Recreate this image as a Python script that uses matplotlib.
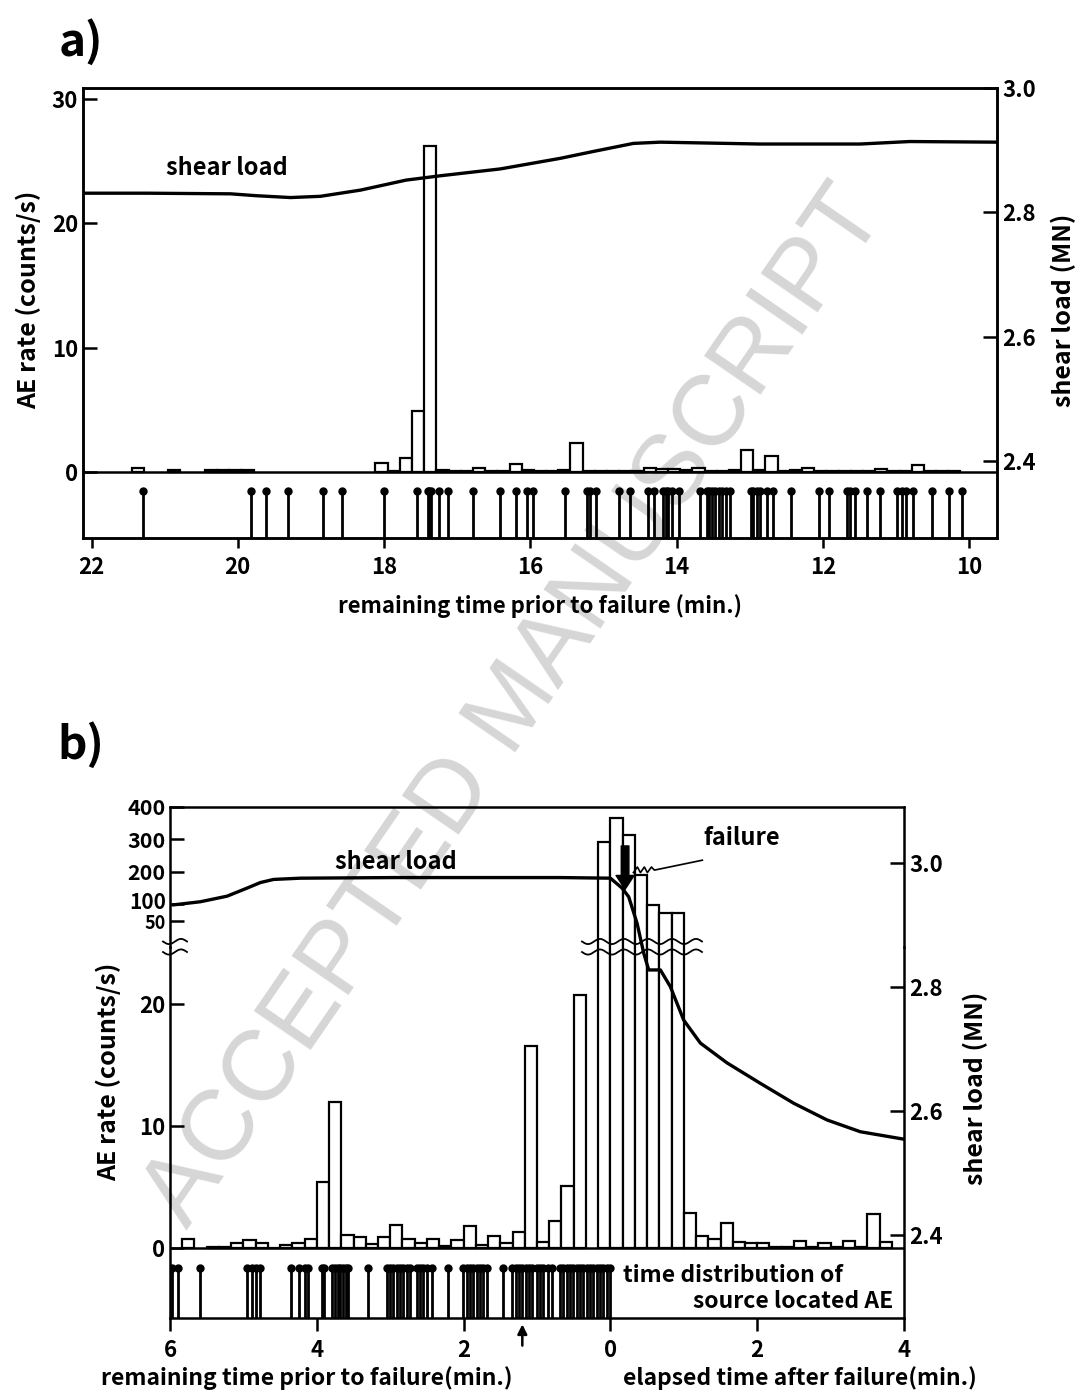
import numpy as np
import matplotlib
matplotlib.use("Agg")
import matplotlib.pyplot as plt
from matplotlib.lines import Line2D
from matplotlib.ticker import FuncFormatter

plt.rcParams["font.family"] = ["Noto Sans CJK JP", "DejaVu Sans"]

# ---------------- panel a: 10 s AE rate, 22 -> 10 min before failure
a_bin_start = 22.117
a_bin_width = 1 / 6
a_rate = [0, 0, 0, 0, 0.35, 0, 0, 0.2, 0, 0, 0.2, 0.2, 0.2, 0.15,
          0, 0, 0, 0, 0, 0, 0, 0, 0, 0,
          0.7, 0.1, 1.15, 4.9, 26.2, 0.15, 0.1, 0.05, 0.3, 0.1, 0.05, 0.65,
          0.2, 0.05, 0.1, 0.15, 2.35, 0.1, 0.05, 0.05, 0.05, 0.1, 0.35, 0.25,
          0.25, 0.15, 0.3, 0.1, 0.05, 0.2, 1.8, 0.15, 1.3, 0.05, 0.15, 0.35,
          0.1, 0.05, 0.05, 0.05, 0.1, 0.25, 0.05, 0.1, 0.6, 0.1, 0.1, 0.1,
          0, 0, 0]
a_events = [21.29, 19.82, 19.61, 19.31, 18.83, 18.57, 18.00, 17.55, 17.40,
            17.38, 17.36, 17.25, 17.13, 16.79, 16.41, 16.19, 16.04, 15.96,
            15.52, 15.22, 15.19, 15.10, 14.79, 14.64, 14.39, 14.31, 14.18,
            14.14, 14.11, 14.06, 13.97, 13.68, 13.58, 13.55, 13.51, 13.47,
            13.42, 13.38, 13.33, 13.27, 12.98, 12.95, 12.90, 12.86, 12.76,
            12.68, 12.44, 12.05, 11.92, 11.67, 11.63, 11.56, 11.39, 11.22,
            10.99, 10.92, 10.86, 10.77, 10.50, 10.28, 10.10]
a_load_t = [22.10, 21.23, 20.10, 19.75, 19.28, 18.87, 18.32, 17.70, 17.23,
            16.41, 15.59, 15.14, 14.59, 14.22, 12.86, 11.49, 10.81, 9.62]
a_load = [2.831, 2.831, 2.830, 2.827, 2.824, 2.826, 2.836, 2.852, 2.859,
          2.870, 2.887, 2.898, 2.911, 2.913, 2.910, 2.910, 2.914, 2.913]

# ---------------- panel b: 6 min before to 4 min after failure
b_bin_start = -6.0
b_bin_width = 1 / 6
b_rate = [0, 0.8, 0, 0.1, 0.1, 0.45, 0.7, 0.45, 0.05, 0.25, 0.4, 0.75,
          5.4, 12.0, 1.1, 0.9, 0.35, 0.9, 1.9, 0.75, 0.4, 0.75, 0.15, 0.7,
          1.8, 0.3, 1.0, 0.45, 1.35, 16.6, 0.55, 2.2, 5.1, 20.8, 0, 293,
          364, 313, 190, 97, 74, 72, 2.9, 1.0, 0.8, 2.1, 0.5, 0.4,
          0.4, 0.1, 0.1, 0.6, 0.1, 0.4, 0.1, 0.6, 0.1, 2.8, 0.5, 0]
b_events = [-5.967, -5.886, -5.590, -4.955, -4.887, -4.832, -4.772, -4.350,
            -4.237, -4.159, -4.124, -3.933, -3.896, -3.787, -3.751, -3.715,
            -3.678, -3.642, -3.606, -3.569, -3.307, -3.048, -3.001, -2.956,
            -2.911, -2.865, -2.820, -2.775, -2.729, -2.639, -2.593, -2.548,
            -2.503, -2.435, -2.217, -2.003, -1.958, -1.911, -1.866, -1.822,
            -1.775, -1.730, -1.685, -1.458, -1.335, -1.290, -1.244, -1.199,
            -1.154, -1.108, -1.063, -1.004, -0.958, -0.913, -0.854, -0.800,
            -0.685, -0.640, -0.595, -0.549, -0.504, -0.459, -0.413, -0.368,
            -0.323, -0.277, -0.232, -0.187, -0.140, -0.095, -0.050, -0.004]
b_load_t = [-5.95, -5.586, -5.222, -4.95, -4.768, -4.587, -4.223, -2.952,
            -1.59, -0.681, 0.0, 0.159, 0.249, 0.364, 0.454, 0.522, 0.681,
            0.817, 0.999, 1.226, 1.59, 2.044, 2.497, 2.952, 3.406, 4.0]
b_load = [2.932, 2.937, 2.946, 2.959, 2.968, 2.973, 2.975, 2.976, 2.976,
          2.976, 2.975, 2.959, 2.945, 2.902, 2.854, 2.827, 2.827, 2.800,
          2.746, 2.709, 2.677, 2.644, 2.612, 2.585, 2.566, 2.554]
b_upper_ticks = [50, 100, 200, 300, 400]

W, H = 1077, 1393
LW = 1.8
TICK_FS = 16
XLABEL_FS = 16
YLABEL_FS = 18
NOTE_FS = 17
BOLD = "bold"


def rect(x0, y0, x1, y1):
    return [x0 / W, 1 - y1 / H, (x1 - x0) / W, (y1 - y0) / H]


def fig_xy(x, y):
    return np.asarray(x) / W, 1 - np.asarray(y) / H


def style_ticks(ax, size=TICK_FS):
    for lab in ax.get_xticklabels() + ax.get_yticklabels():
        lab.set_fontweight(BOLD)
        lab.set_fontsize(size)


fig = plt.figure(figsize=(W / 100, H / 100), dpi=100)

# watermark behind everything
fig.text(0.478, 0.492, "ACCEPTED MANUSCRIPT", rotation=55.5, fontsize=72,
         color="#d6d6d6", ha="center", va="center", family="Liberation Sans",
         zorder=-1)

# ================= panel a =================
axa = fig.add_axes(rect(83, 88, 997, 538))
axa.set_facecolor("none")
axa.set_xlim(22.117, 9.617)
axa.set_ylim(-5.3, 30.9)
rate = np.array(a_rate)
centers = a_bin_start - (np.arange(len(rate)) + 0.5) * a_bin_width
m = rate > 0
axa.bar(centers[m], rate[m], width=a_bin_width, color="white",
        edgecolor="black", linewidth=1.6, zorder=2)
axa.axhline(0, color="black", lw=LW, zorder=3)
axa.vlines(a_events, -5.3, -1.5, color="black", lw=2.0, zorder=2)
axa.plot(a_events, [-1.5] * len(a_events), "o", ms=5, color="black", zorder=2)
axa.set_yticks([0, 10, 20, 30])
axa.set_xticks([22, 20, 18, 16, 14, 12, 10])
axa.tick_params(axis="y", direction="in", length=10, width=LW)
axa.tick_params(axis="x", direction="out", length=7, width=LW, pad=6)
for sp in axa.spines.values():
    sp.set_linewidth(LW)
style_ticks(axa)

axa2 = axa.twinx()
axa2.set_ylim(2.2771, 3.0)
axa2.set_yticks([2.4, 2.6, 2.8, 3.0])
axa2.yaxis.set_major_formatter(FuncFormatter(lambda v, p: f"{v:.1f}"))
axa2.tick_params(axis="y", direction="in", length=10, width=LW)
axa2.plot(a_load_t, a_load, color="black", lw=2.4, zorder=4)
axa2.text(20.15, 2.8715, "shear load", fontsize=NOTE_FS, fontweight=BOLD,
          ha="center", va="center")
for sp in axa2.spines.values():
    sp.set_linewidth(LW)
style_ticks(axa2)

fig.text(*fig_xy(28, 300), "AE rate (counts/s)", rotation=90, ha="center",
         va="center", fontsize=YLABEL_FS, fontweight=BOLD)
fig.text(*fig_xy(1063, 310), "shear load (MN)", rotation=90, ha="center",
         va="center", fontsize=YLABEL_FS, fontweight=BOLD)
fig.text(*fig_xy(540, 606), "remaining time prior to failure (min.)",
         ha="center", va="center", fontsize=XLABEL_FS, fontweight=BOLD)
fig.text(*fig_xy(81, 42), "a)", ha="center", va="center", fontsize=33,
         fontweight=BOLD)

# ================= panel b =================
Y_BREAK = 946.7
lo = fig.add_axes(rect(170, Y_BREAK, 904, 1318))
up = fig.add_axes(rect(170, 806.7, 904, Y_BREAK))
ld = fig.add_axes(rect(170, 806.7, 904, 1318))
for ax in (lo, up, ld):
    ax.set_facecolor("none")
    ax.set_xlim(-6, 4)
    for sp in ax.spines.values():
        sp.set_linewidth(LW)

lo.set_ylim(-5.71, 24.72)
up.set_ylim(-30.3, 400)
lo.spines["top"].set_visible(False)
up.spines["bottom"].set_visible(False)
for sp in ld.spines.values():
    sp.set_visible(False)

rate_b = np.array(b_rate)
cb = b_bin_start + (np.arange(len(rate_b)) + 0.5) * b_bin_width
m = rate_b > 0
lo.bar(cb[m], rate_b[m], width=b_bin_width, color="white", edgecolor="black",
       linewidth=1.6, zorder=2)
big = rate_b > 24.72
up.bar(cb[big], rate_b[big] + 60, bottom=-60, width=b_bin_width,
       color="white", edgecolor="black", linewidth=1.6, zorder=2)
lo.axhline(0, color="black", lw=LW, zorder=3)
lo.vlines(b_events, -5.71, -1.64, color="black", lw=2.0, zorder=2)
lo.plot(b_events, [-1.64] * len(b_events), "o", ms=5, color="black", zorder=2)

lo.set_yticks([0, 10, 20])
lo.set_xticks([-6, -4, -2, 0, 2, 4])
lo.xaxis.set_major_formatter(FuncFormatter(lambda v, p: f"{abs(v):.0f}"))
lo.tick_params(axis="y", direction="in", length=10, width=LW, right=False)
lo.tick_params(axis="x", direction="out", length=9, width=LW, pad=6)
style_ticks(lo)

# upper (compressed) scale: 100 and 50 sit very close, so they are placed
# by hand a little apart; the others are normal tick labels
up.set_yticks(b_upper_ticks)
up.set_yticklabels(["", ""] + [str(v) for v in b_upper_ticks[2:]])
up.tick_params(axis="y", direction="in", length=10, width=LW, right=False,
               pad=3)
up.tick_params(axis="x", bottom=False, labelbottom=False)
style_ticks(up, size=15.5)
up.text(-6.058, 106, "100", ha="right", va="center", fontsize=15,
        fontweight=BOLD, clip_on=False)
up.text(-6.058, 42, "50", ha="right", va="center", fontsize=13,
        fontweight=BOLD, clip_on=False)

ld.xaxis.set_visible(False)
ld.yaxis.tick_right()
ld.set_ylim(2.2656, 3.0903)
ld.set_yticks([2.4, 2.6, 2.8, 3.0])
ld.yaxis.set_major_formatter(FuncFormatter(lambda v, p: f"{v:.1f}"))
ld.tick_params(axis="y", direction="in", length=10, width=LW)
ld.plot(b_load_t, b_load, color="black", lw=2.4, zorder=4)
ld.text(-2.92, 3.001, "shear load", fontsize=NOTE_FS, fontweight=BOLD,
        ha="center", va="center")
style_ticks(ld)

# failure arrow and wavy leader
ld.annotate("", xy=(0.2, 2.957), xytext=(0.2, 3.027),
            arrowprops=dict(facecolor="black", edgecolor="black", width=5.5,
                            headwidth=13, headlength=10, shrink=0))
ld.plot([0.313, 0.368, 0.409, 0.463, 0.504, 0.559, 0.599, 1.253],
        [2.984, 2.993, 2.984, 2.993, 2.984, 2.993, 2.988, 3.004],
        color="black", lw=1.2)
ld.text(1.785, 3.040, "failure", fontsize=NOTE_FS, fontweight=BOLD,
        ha="center", va="center")

# upward arrow under the axis
lo.annotate("", xy=(-1.2, -6.0), xytext=(-1.2, -8.2), annotation_clip=False,
            arrowprops=dict(arrowstyle="-|>", color="black", lw=1.8,
                            mutation_scale=14))

# axis break marks (two wavy lines)
for x0, x1 in ((163, 187), (582, 702)):
    xs = np.linspace(x0, x1, 160)
    for yc in (941.5, 952.0):
        ys = yc + 2.6 * np.sin(2 * np.pi * (xs - x0) / 24)
        fx, fy = fig_xy(xs, ys)
        fig.add_artist(Line2D(fx, fy, color="black", lw=1.3, zorder=5))

fig.text(*fig_xy(623, 1275), "time distribution of", ha="left", va="center",
         fontsize=16.5, fontweight=BOLD)
fig.text(*fig_xy(893, 1301), "source located AE", ha="right", va="center",
         fontsize=16.5, fontweight=BOLD)
fig.text(*fig_xy(108, 1072), "AE rate (counts/s)", rotation=90, ha="center",
         va="center", fontsize=YLABEL_FS, fontweight=BOLD)
fig.text(*fig_xy(975, 1088), "shear load (MN)", rotation=90, ha="center",
         va="center", fontsize=YLABEL_FS, fontweight=BOLD)
fig.text(*fig_xy(307, 1378), "remaining time prior to failure(min.)",
         ha="center", va="center", fontsize=16.5, fontweight=BOLD)
fig.text(*fig_xy(800, 1378), "elapsed time after failure(min.)",
         ha="center", va="center", fontsize=16.5, fontweight=BOLD)
fig.text(*fig_xy(81, 745), "b)", ha="center", va="center", fontsize=33,
         fontweight=BOLD)

fig.savefig("out.png", dpi=100, facecolor="white")
